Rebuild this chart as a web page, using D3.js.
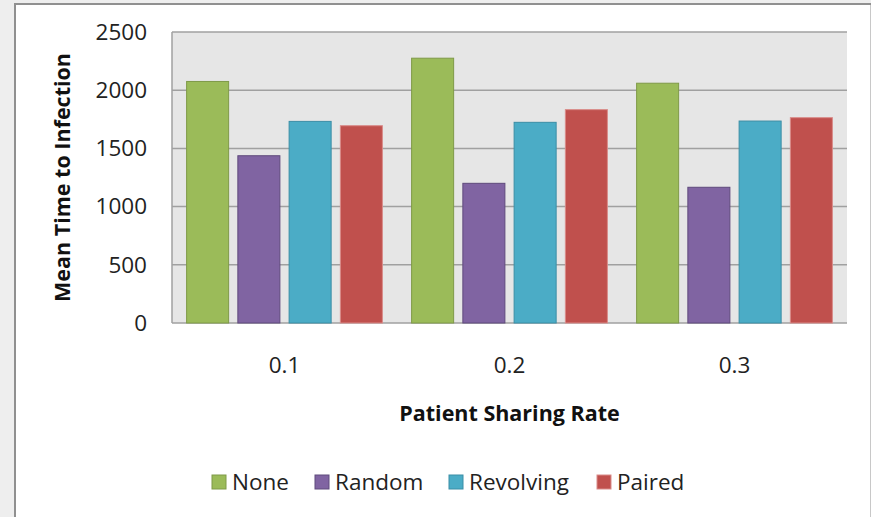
<!doctype html>
<html>
<head>
<meta charset="utf-8">
<style>
  body { margin: 0; background: #eeeeee; }
  svg { display: block; font-family: "Open Sans", sans-serif; }
</style>
</head>
<body>
<svg id="chart" width="871" height="517"></svg>
<script src="https://d3js.org/d3.v7.min.js"></script>
<script>
  // chart data
  const rates = ['0.1', '0.2', '0.3'];
  const strategies = ['None', 'Random', 'Revolving', 'Paired'];
  const noneVals = [2075, 2275, 2060];
  const randomVals = [1437, 1200, 1166];
  const revolvingVals = [1732, 1724, 1735];
  const pairedVals = [1695, 1833, 1764];
  const yTicks = [0, 500, 1000, 1500, 2000, 2500];

  const fills = ['#9bbb59', '#8064a2', '#4bacc6', '#c0504d'];
  const strokes = ['#7f9a48', '#5f4a7c', '#3b8ea6', '#d98b89'];
  const valuesBySeries = [noneVals, randomVals, revolvingVals, pairedVals];

  const svg = d3.select('#chart');

  // outer frame
  svg.append('rect')
    .attr('x', 15).attr('y', 4).attr('width', 860).attr('height', 520)
    .attr('fill', '#ffffff');
  svg.append('line')
    .attr('x1', 15).attr('x2', 15).attr('y1', 3).attr('y2', 517)
    .attr('stroke', '#909090').attr('stroke-width', 2);
  svg.append('line')
    .attr('x1', 14).attr('x2', 871).attr('y1', 4).attr('y2', 4)
    .attr('stroke', '#909090').attr('stroke-width', 2);
  svg.append('line')
    .attr('x1', 870.5).attr('x2', 870.5).attr('y1', 5).attr('y2', 517)
    .attr('stroke', '#c8c8c8').attr('stroke-width', 1);

  const plot = { left: 172, right: 847, top: 32, bottom: 323 };

  const x0 = d3.scaleBand()
    .domain(rates)
    .range([plot.left, plot.right]);
  const x1 = d3.scaleBand()
    .domain(strategies)
    .range([0, x0.bandwidth()])
    .paddingInner(0.18)
    .paddingOuter(0.285);
  const y = d3.scaleLinear()
    .domain([0, 2500])
    .range([plot.bottom, plot.top]);

  // plot background
  svg.append('rect')
    .attr('x', plot.left).attr('y', plot.top)
    .attr('width', plot.right - plot.left)
    .attr('height', plot.bottom - plot.top)
    .attr('fill', '#e6e6e6');

  // gridlines
  svg.append('g')
    .selectAll('line')
    .data(yTicks)
    .join('line')
    .attr('x1', plot.left).attr('x2', plot.right)
    .attr('y1', d => y(d)).attr('y2', d => y(d))
    .attr('stroke', '#a0a0a0').attr('stroke-width', 1.5);

  // left axis line
  svg.append('line')
    .attr('x1', plot.left).attr('x2', plot.left)
    .attr('y1', plot.top).attr('y2', plot.bottom)
    .attr('stroke', '#a0a0a0').attr('stroke-width', 1.5);

  // bars
  const groups = svg.append('g')
    .selectAll('g')
    .data(rates)
    .join('g')
    .attr('transform', d => `translate(${x0(d)},0)`);

  groups.selectAll('rect')
    .data((d, gi) => strategies.map((s, si) => ({ s, si, v: valuesBySeries[si][gi] })))
    .join('rect')
    .attr('x', d => x1(d.s))
    .attr('y', d => y(d.v))
    .attr('width', x1.bandwidth())
    .attr('height', d => y(0) - y(d.v))
    .attr('fill', d => fills[d.si])
    .attr('stroke', d => strokes[d.si])
    .attr('stroke-width', 1);

  // y tick labels
  svg.append('g')
    .selectAll('text')
    .data(yTicks)
    .join('text')
    .attr('x', 147)
    .attr('y', d => y(d))
    .attr('dy', '0.35em')
    .attr('text-anchor', 'end')
    .attr('font-size', 22.5)
    .attr('fill', '#222')
    .text(d => d);

  // x tick labels
  svg.append('g')
    .selectAll('text')
    .data(rates)
    .join('text')
    .attr('x', d => x0(d) + x0.bandwidth() / 2)
    .attr('y', 373)
    .attr('text-anchor', 'middle')
    .attr('font-size', 22.5)
    .attr('fill', '#222')
    .text(d => d);

  // axis titles
  svg.append('text')
    .attr('x', (plot.left + plot.right) / 2)
    .attr('y', 421)
    .attr('text-anchor', 'middle')
    .attr('font-size', 21.5)
    .attr('font-weight', 'bold')
    .attr('fill', '#111')
    .text('Patient Sharing Rate');

  svg.append('text')
    .attr('transform', `translate(70,${(plot.top + plot.bottom) / 2}) rotate(-90)`)
    .attr('text-anchor', 'middle')
    .attr('font-size', 21.5)
    .attr('font-weight', 'bold')
    .attr('fill', '#111')
    .text('Mean Time to Infection');

  // legend
  const legendX = [212, 315, 449, 597];
  const legend = svg.append('g')
    .selectAll('g')
    .data(strategies)
    .join('g')
    .attr('transform', (d, i) => `translate(${legendX[i]},475)`);
  legend.append('rect')
    .attr('width', 14).attr('height', 14)
    .attr('fill', (d, i) => fills[i])
    .attr('stroke', (d, i) => strokes[i]);
  legend.append('text')
    .attr('x', 20).attr('y', 7)
    .attr('dy', '0.36em')
    .attr('font-size', 22.5)
    .attr('fill', '#222')
    .text(d => d);
</script>
</body>
</html>
